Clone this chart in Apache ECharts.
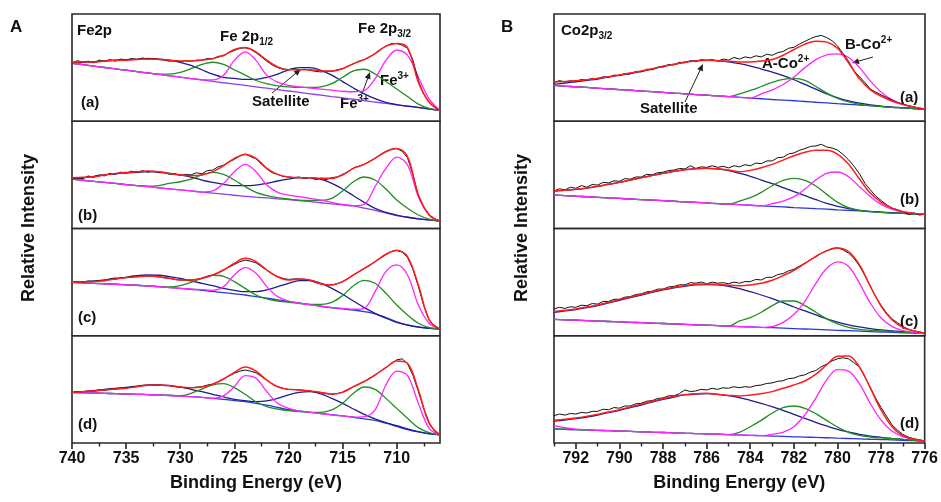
<!DOCTYPE html>
<html>
<head>
<meta charset="utf-8">
<script src="https://cdn.jsdelivr.net/npm/echarts@6/dist/echarts.min.js"></script>
<style>
  html, body { margin: 0; padding: 0; background: #fff; }
  #main { width: 941px; height: 502px; }
</style>
</head>
<body>
<div id="main"></div>
<script>
// ---------- axis ticks ----------
const feTicks = [740, 735, 730, 725, 720, 715, 710];
const feMinorTicks = [737.5, 732.5, 727.5, 722.5, 717.5, 712.5, 707.5];
const coTicks = [792, 790, 788, 786, 784, 782, 780, 778, 776];
const coMinorTicks = [793, 791, 789, 787, 785, 783, 781, 779, 777];

// ---------- Fe 2p (panel A), fitted curves on a 1 eV grid 740 -> 706 ----------
const feBgA = [54, 52.7, 51.4, 50.1, 48.8, 47.6, 46.3, 45, 43.7, 42.4, 41.1, 39.8, 38.5, 37.2, 35.9, 34.7, 33.4, 32.1, 30.8, 29.5, 28.2, 26.9, 25.6, 24.3, 23, 21.8, 20.5, 19.2, 17.9, 16.6, 15.3, 14, 12.7, 11.4, 10.1];
const feSatA = [54, 55, 55.5, 56, 57, 57.5, 58, 58.5, 58, 57, 55, 52, 48, 44, 41, 40, 39, 39, 41, 44, 48, 50, 50, 47.5, 43, 37, 31, 25.5, 21, 17.5, 15.5, 14.2, 12.9, 11.5, 10.1];
const feGreenA = [54, 52.7, 51.4, 50.1, 48.8, 47.6, 46.3, 45, 44, 44, 45.5, 49, 53, 55, 53, 48, 43, 38, 35, 33, 32, 31.5, 31.5, 32, 35, 41, 47, 48.5, 44, 37, 30, 23, 16, 12, 10.1];
const feMagA = [54, 52.7, 51.4, 50.1, 48.8, 47.6, 46.3, 45, 43.7, 42.4, 41.1, 39.8, 38.7, 38.5, 42.8, 56.8, 64.7, 56.8, 42.8, 36.5, 33.4, 32, 31, 30, 29, 28, 27.5, 28.5, 39.6, 56.8, 66.2, 61.5, 41.2, 20.9, 10.1];
const feEnvA = [55.3, 55.3, 55.3, 56.2, 56.9, 56.9, 57.5, 58.1, 57.8, 56.9, 56.2, 56.2, 56.9, 58.4, 61.5, 66.9, 68.7, 64.7, 56.9, 50.6, 48.1, 48.1, 48.1, 46.8, 46.8, 49, 53.7, 57.5, 63.1, 70, 72.5, 68.7, 36.5, 17.7, 9.9];

const feBgB = [46, 45, 44, 43, 42, 41, 40, 39, 38, 37, 36, 35, 34, 33, 32, 31, 30, 29.2, 28.5, 27.7, 27, 26, 25, 24, 23, 22, 21, 19, 17, 14.5, 12, 10.5, 9, 8, 7];
const feSatB = [46, 47.3, 48.6, 50, 51, 51.8, 52.3, 53, 52.7, 51.4, 49.9, 48, 45.2, 43, 41.2, 39.9, 39.9, 40.5, 42.1, 44.3, 46.1, 47.4, 47.4, 45.8, 42.1, 36.8, 30.6, 24.4, 18.8, 15, 12.5, 10.5, 9, 8, 7];
const feGreenB = [46, 45, 44, 43, 42, 41, 40, 39.5, 40, 42, 43.6, 46.1, 49.9, 52.3, 50.5, 45.2, 39, 33.7, 30.6, 28.7, 27.5, 26.5, 26.2, 26.2, 28.1, 34.9, 43.6, 48, 45.2, 36.8, 26.5, 18.8, 12.6, 8.8, 7];
const feMagB = [46, 45, 44, 43, 42, 41, 40, 39, 38, 37, 36, 35, 34, 35, 42, 53, 59.8, 53, 40.5, 33.7, 31.2, 29.7, 28.1, 26.5, 24.4, 22.5, 21.3, 22.5, 39, 56, 66.6, 59.2, 29.7, 12.6, 7];
const feEnvB = [47.4, 47.7, 48.3, 49.9, 51.4, 52.3, 53, 53.6, 53, 51.4, 49.9, 49.2, 49.9, 53, 58.6, 65.4, 69.1, 65.4, 56.1, 50.5, 48, 47.4, 47.4, 46.8, 46.8, 49.9, 56.1, 59.8, 65.4, 71.6, 74.7, 67, 31.2, 12.6, 7];

const feBgC = [49.8, 49.3, 48.9, 48.4, 48, 47.5, 47.1, 46.4, 45.8, 45, 44.2, 43.3, 42.4, 41.3, 40.2, 39.1, 38, 36.5, 35, 33.5, 32, 30.5, 29, 27.5, 26, 25, 24, 22.5, 20.5, 17, 13, 10, 8, 6.8, 6.3];
const feSatC = [49.8, 50.5, 51.1, 52, 53.6, 54.5, 56.1, 56.7, 56.4, 55.1, 53.6, 51.1, 48.9, 46.7, 44.2, 42.4, 41.1, 41.1, 42.7, 45.8, 48.9, 51.4, 51.4, 48.9, 44.2, 38.7, 32.4, 26.2, 20.9, 16.3, 12.5, 10.1, 8.2, 7, 6.3];
const feGreenC = [49.8, 49.5, 48.9, 48.6, 48, 47.7, 47.1, 46.4, 45.8, 45.5, 46.7, 49.8, 53.6, 56.4, 55.4, 50.5, 44.2, 38, 34.3, 32.4, 31.2, 30.3, 29.3, 29.3, 31.2, 37.4, 46.7, 51.7, 48.9, 39.6, 28.7, 19.4, 11.6, 7.6, 6.3];
const feMagC = [49.8, 49.3, 48.9, 48.4, 48, 47.5, 47.1, 46.4, 45.8, 44.9, 44.2, 43.6, 43, 42.4, 45.8, 56.7, 63.5, 58.2, 45.8, 36.5, 32.4, 30.3, 28.7, 27.5, 26.5, 25.6, 24.7, 25.6, 41.1, 59.8, 66, 56.7, 28.7, 11.6, 6.3];
const feEnvC = [49.8, 50.2, 50.5, 51.4, 53, 54.2, 55.1, 55.7, 55.1, 53.6, 52, 52, 53.6, 56.7, 61.3, 67.6, 72.2, 69.1, 61.3, 55, 52, 53, 52, 48.3, 47.4, 50.5, 56.7, 62.9, 69.1, 76, 79.7, 73.8, 47.4, 14.7, 6.3];

const feBgD = [47.2, 46.9, 46.6, 46.3, 46, 45.7, 45.4, 45.1, 44.8, 44.3, 43.8, 43.2, 42.6, 41.7, 40.7, 39.6, 38.5, 37, 35.4, 33.2, 31, 30, 28.5, 27.5, 26.5, 25.3, 24, 22.5, 21, 18.5, 15.5, 12.5, 10.3, 8.6, 7.5];
const feSatD = [47.2, 47.9, 48.8, 50, 51, 51.9, 53.1, 54.1, 54.1, 53.5, 52.2, 50, 47.9, 45.4, 42.9, 40.7, 39.5, 38.5, 39.2, 41.6, 44.8, 47.2, 47.9, 45.7, 41.6, 37, 31.7, 26.7, 22.4, 19, 16.2, 13.1, 10.6, 8.7, 7.5];
const feGreenD = [47.2, 46.9, 46.6, 46.3, 46, 45.7, 45.4, 45.1, 44.8, 44.5, 44.1, 46.3, 50.3, 54.1, 55.3, 51.6, 45.4, 38.5, 33.9, 31.7, 30.1, 29.2, 28.6, 28.6, 30.8, 37, 46.3, 52.2, 50, 41.6, 32.3, 23, 14.3, 9.6, 7.5];
const feMagD = [47.2, 46.9, 46.6, 46.3, 46, 45.7, 45.4, 45.1, 44.8, 44.3, 43.8, 43.2, 42.6, 41.6, 44, 52.5, 62.8, 60.3, 47.9, 37, 32.3, 29.8, 28.6, 27.4, 26.1, 25.2, 24.2, 24.6, 30.8, 54.1, 67.1, 62.8, 37, 13.7, 7.5];
const feEnvD = [47.2, 47.9, 48.5, 49.4, 50.3, 51, 52.5, 53.8, 54.1, 53.5, 52.2, 51.6, 52.2, 54.7, 59.7, 65.9, 70.9, 67.1, 58.7, 52.5, 50, 49.4, 48.5, 47.2, 45.7, 47.2, 52.5, 57.2, 63.4, 70.2, 76.5, 74.3, 49.4, 18.3, 7.5];

// measured Fe 2p spectra, 0.5 eV steps 740 -> 706
const feRawA = [54, 56.5, 55, 56, 54.5, 57, 56, 57.5, 56, 58,
  57, 58.5, 57.5, 59, 58, 58.5, 57.5, 57, 56, 56.5,
  55.5, 56.5, 56, 57, 57, 58.5, 58, 60.5, 61, 64,
  66, 68, 68.5, 67, 64, 60, 56, 52.5, 50, 48.5,
  48, 49, 48, 48.5, 47.5, 46.5, 46, 46.5, 46.5, 48,
  49, 51.5, 53.5, 56, 57.5, 60, 63, 67, 70, 72.5,
  72.5, 71, 68, 57, 38, 25, 18, 13, 10];
const feRawB = [46, 47.5, 46.5, 49, 47.5, 50, 49, 51.5, 50.5, 52.5,
  51.5, 53.5, 52, 54, 52.5, 53.5, 52, 52, 50.5, 51,
  49.5, 50.5, 50, 52, 51, 54, 54.5, 57.5, 59, 62,
  64.5, 67.5, 69.5, 67, 65, 60, 55.5, 52, 50.5, 48.5,
  48, 47.5, 48, 46.5, 47.5, 45.5, 47, 45.5, 47.5, 48,
  50.5, 53, 56.5, 58, 60, 62.5, 65.5, 69, 72, 74,
  74.5, 72, 66, 50, 31, 20, 13, 9, 7];
const feRawC = [49.5, 50.5, 50, 51, 50.5, 51.5, 51, 53, 52.5, 54,
  54, 55.5, 55, 56, 55.5, 55.5, 55, 54, 53.5, 52.5,
  52, 52, 52, 52.5, 53.5, 55, 56.5, 58.5, 61, 64,
  66.5, 69, 70.5, 69.5, 68, 64.5, 61, 57.5, 55, 53.5,
  52.5, 53, 53, 52.5, 51.5, 49.5, 48.5, 47.5, 47.5, 48.5,
  50.5, 53.5, 56.5, 59.5, 62.5, 65.5, 69, 72.5, 75.5, 78.5,
  79.5, 78, 73, 62, 46, 28, 15, 9, 6];
const feRawD = [47, 48, 47.5, 48.5, 48, 49.5, 49, 50.5, 50, 51,
  51, 52.5, 52.5, 53.5, 53.5, 54, 54, 53.5, 53.5, 52.5,
  52, 51.5, 51.5, 52, 52.5, 54, 55, 57, 59.5, 62.5,
  65, 67, 68, 67, 65.5, 62, 58.5, 55, 52.5, 51,
  50, 50, 49.5, 49, 48.5, 47.5, 47, 46, 45.5, 46,
  47.5, 50, 52.5, 55, 57.5, 60.5, 63.5, 67, 70.5, 74,
  77.5, 78.5, 74, 63, 48, 32, 19, 11, 7.5];

// ---------- Co 2p3/2 (panel B), fitted curves on a 0.5 eV grid 793 -> 776 ----------
const coBgA = [33.4, 32.7, 32.1, 31.5, 30.8, 30.2, 29.5, 28.9, 28.2, 27.6, 26.9, 26.2, 25.6, 24.9, 24.3, 23.6, 23, 22.3, 21.6, 21, 20.3, 19.7, 19.1, 18.4, 17.7, 17.1, 16.4, 15.8, 15.1, 14.5, 13.8, 13.2, 12.5, 11.9, 11.2];
const coSatA = [34.3, 35.6, 36.8, 38.1, 39.3, 41.2, 42.8, 44.6, 46.5, 48.7, 51.2, 53.1, 55, 56.5, 56.9, 56.5, 55.3, 53.7, 51.5, 48.7, 45.9, 42.5, 38.7, 34.3, 29.9, 25.5, 21.8, 19, 16.8, 15.2, 14, 13, 12.5, 11.9, 11.2];
const coGreenA = [33.4, 32.7, 32.1, 31.5, 30.8, 30.2, 29.5, 28.9, 28.2, 27.6, 26.9, 26.2, 25.6, 24.9, 24.3, 23.6, 23, 25.5, 28.7, 32.4, 36.2, 39, 40, 38.1, 32.4, 26.2, 21.2, 18, 15.8, 14.6, 13.7, 13, 12.5, 11.9, 11.2];
const coMagA = [33.4, 32.7, 32.1, 31.5, 30.8, 30.2, 29.5, 28.9, 28.2, 27.6, 26.9, 26.2, 25.6, 24.9, 24.3, 23.6, 23, 22.3, 21.6, 25.5, 29.3, 34.3, 41.2, 50, 57.5, 61.9, 62.8, 59.4, 50, 37.4, 27.1, 19.9, 15.5, 13, 11.5];
const coEnvA = [36.5, 37.1, 37.8, 38.7, 40, 41.5, 43.1, 45, 46.8, 49, 51.2, 53.1, 55, 56.2, 56.9, 56.5, 55.9, 55.3, 55.3, 56.2, 57.5, 61.5, 66.9, 71.9, 74.7, 73.8, 67.8, 54.3, 39.6, 29.3, 23.2, 18.7, 15.5, 13, 11.5];

const coBgB = [31.2, 30.7, 30.1, 29.6, 29.1, 28.5, 28, 27.5, 26.9, 26.4, 25.9, 25.4, 24.8, 24.3, 23.8, 23.2, 22.7, 22.2, 21.7, 21.1, 20.6, 20.1, 19.5, 19, 18.5, 18, 17.4, 16.9, 16.4, 15.8, 15.3, 14.8, 14.2, 13.7, 13.2];
const coSatB = [34.9, 35.6, 36.5, 37.7, 39.3, 41.2, 43, 45.2, 47.4, 49.5, 51.4, 53.3, 54.8, 55.8, 56.1, 55.5, 53.9, 51.4, 48.6, 45.2, 41.8, 38.1, 34.3, 30.6, 26.9, 23.4, 20.6, 18.5, 16.9, 16, 15.1, 14.4, 14.1, 13.5, 13.2];
const coGreenB = [31.2, 30.7, 30.1, 29.6, 29.1, 28.5, 28, 27.5, 26.9, 26.4, 25.9, 25.4, 24.8, 24.3, 23.8, 23.2, 22.7, 25.6, 28.7, 33.7, 39.9, 44.9, 46.7, 44.9, 39.6, 31.8, 24.4, 19.4, 16.9, 15.7, 15.1, 14.4, 14.1, 13.5, 13.2];
const coMagB = [31.2, 30.7, 30.1, 29.6, 29.1, 28.5, 28, 27.5, 26.9, 26.4, 25.9, 25.4, 24.8, 24.3, 23.8, 23.2, 22.7, 22.2, 21.7, 21.1, 23.1, 25.6, 29.7, 36.8, 45.2, 51.4, 52.7, 48.3, 39, 29.7, 22.5, 17.8, 15.4, 14.1, 13.2];
const coEnvB = [34.9, 35.6, 36.5, 37.7, 39.3, 41.2, 43, 45.2, 47.4, 49.5, 51.4, 53.3, 54.8, 55.8, 56.1, 55.8, 54.5, 53, 54.2, 56.7, 59.8, 63.8, 67.9, 71, 72.9, 72.9, 69.1, 59.8, 46.1, 32.8, 24.4, 18.8, 15.7, 14.1, 13.2];

const coBgC = [15.3, 14.9, 14.5, 14.1, 13.7, 13.3, 12.9, 12.5, 12.2, 11.8, 11.4, 11, 10.6, 10.2, 9.8, 9.4, 9, 8.6, 8.2, 7.8, 7.5, 7.1, 6.7, 6.3, 5.9, 5.5, 5.1, 4.7, 4.3, 3.9, 3.5, 3.1, 2.8, 2.4, 2];
const coSatC = [21.9, 23.1, 24.4, 26.2, 28.1, 30.6, 33.1, 35.5, 38, 40.5, 42.7, 44.6, 46.1, 47.4, 47.7, 47.4, 46.1, 43.9, 41.1, 38, 34.6, 30.9, 26.8, 23.1, 19.4, 15.7, 12.6, 10.1, 8.2, 6.6, 5.4, 4.5, 3.9, 2.9, 2.3];
const coGreenC = [15.3, 14.9, 14.5, 14.1, 13.7, 13.3, 12.9, 12.5, 12.2, 11.8, 11.4, 11, 10.6, 10.2, 9.8, 9.4, 9, 13.8, 16.9, 21.9, 28.1, 32.4, 32.4, 28.1, 21.9, 15.7, 11, 7.9, 6, 5.1, 4.5, 3.9, 3.2, 2.6, 2];
const coMagC = [15.3, 14.9, 14.5, 14.1, 13.7, 13.3, 12.9, 12.5, 12.2, 11.8, 11.4, 11, 10.6, 10.2, 9.8, 9.4, 9, 8.6, 8.2, 7.8, 8.5, 12.5, 20, 32.4, 48.9, 62.9, 68.8, 64.5, 48.9, 30.3, 16.3, 8.5, 4.8, 3.2, 2];
const coEnvC = [22.5, 23.7, 25, 26.8, 28.7, 31.2, 33.7, 36.2, 38.7, 41.1, 43.3, 45.2, 46.7, 48, 48.3, 48, 47, 46.7, 47.4, 48.9, 51.7, 56.1, 61, 67.6, 74.1, 79.4, 81.9, 78.4, 66, 45.8, 27.2, 14.7, 7.6, 4.5, 2.3];

const coBgD = [13.1, 12.8, 12.4, 12.1, 11.8, 11.5, 11.1, 10.8, 10.5, 10.1, 9.8, 9.5, 9.1, 8.8, 8.5, 8.2, 7.8, 7.5, 7.2, 6.8, 6.5, 6.2, 5.8, 5.5, 5.2, 4.9, 4.5, 4.2, 3.9, 3.5, 3.2, 2.9, 2.5, 2.2, 1.9];
const coSatD = [20.5, 21.4, 22.7, 24.2, 26.1, 28.3, 30.5, 33, 35.4, 38.2, 40.7, 42.9, 44.8, 45.7, 46, 45.4, 44.1, 42.3, 39.8, 37, 33.9, 30.5, 26.7, 23, 19.3, 15.9, 12.7, 10.3, 8.1, 6.5, 5.3, 4.3, 3.4, 2.5, 1.9];
const coGreenD = [13.1, 12.8, 12.4, 12.1, 11.8, 11.5, 11.1, 10.8, 10.5, 10.1, 9.8, 9.5, 9.1, 8.8, 8.5, 8.2, 7.8, 10, 15.2, 21.1, 27.7, 33, 34.5, 32.3, 27.4, 21.1, 14.9, 9.9, 7.1, 5.6, 4.7, 4, 3.4, 2.5, 1.9];
const coMagD = [16.2, 14.3, 13, 12.3, 11.8, 11.5, 11.1, 10.8, 10.5, 10.1, 9.8, 9.5, 9.1, 8.8, 8.5, 8.2, 7.8, 7.5, 7.2, 6.8, 8.1, 9.9, 15.2, 26.1, 41.6, 58.7, 68.4, 67.1, 55.6, 37, 21.4, 11.2, 5.9, 3.4, 1.9];
const coEnvD = [21.1, 22.1, 23.3, 24.9, 26.7, 28.9, 31.1, 33.6, 36.1, 38.9, 41.3, 43.5, 45.1, 46, 46.3, 45.4, 44.4, 43.8, 44.8, 46, 47.9, 51, 54.1, 57.8, 64, 72.7, 80.8, 81.1, 71.2, 51.6, 30.8, 15.2, 6.8, 3.4, 1.9];

// measured Co 2p3/2 spectra, 0.25 eV steps 793 -> 776
const coRawA = [36, 38, 36.5, 37.8, 37, 39, 38.2, 40, 39.5, 41.5,
  41, 43, 42.5, 44.5, 44, 46.5, 46, 48.5, 48, 50.5,
  50.5, 53, 52.5, 55, 54.5, 56.5, 55.5, 57.5, 56.5, 57.5,
  56, 58, 57, 59.5, 58, 60, 59, 61, 60, 62.5,
  61.5, 64, 65, 68, 69, 72, 74.5, 77, 79, 80,
  78, 75, 70, 63, 56, 47, 41.5, 36, 30, 27,
  24.5, 22, 19.5, 17.5, 16, 14.5, 13.5, 12, 11.5];
const coRawB = [35, 37, 36, 38.5, 37.5, 40, 38.5, 41, 40.5, 43,
  42.5, 44.5, 44, 46.5, 46, 48, 48, 50.5, 50, 52,
  52.5, 54, 54.5, 56, 55.5, 58.5, 56, 57.5, 57, 58.5,
  57, 58, 56.5, 58.5, 57.5, 59.5, 58.5, 61, 60.5, 63,
  63, 66, 66.5, 69.5, 70.5, 73, 74.5, 76.5, 77, 78.5,
  76, 75, 73, 69, 64, 58, 51, 42, 36, 30,
  26, 22, 19, 17.5, 15.5, 13, 14.5, 12.5, 13.5];
const coRawC = [25, 26.5, 25.5, 27, 26.5, 28.5, 28, 30, 29.5, 32,
  32, 34, 34, 36, 36.5, 38.5, 39, 41, 41.5, 43.5,
  43.5, 45.5, 46, 47.5, 47.5, 49.5, 49, 50, 48.5, 50,
  49, 49.5, 48.5, 50, 49, 50.5, 50.5, 52.5, 52, 54.5,
  54.5, 57, 58, 60.5, 62, 65, 67.5, 71, 73.5, 77,
  79, 81.5, 82, 80, 77, 72, 65, 56, 46, 36,
  28, 21, 15.5, 12, 8.5, 6, 4.5, 3.5, 2.5];
const coRawD = [25.5, 27, 26, 27.5, 27, 28.5, 28, 29.5, 29.5, 31.5,
  31, 33, 32.5, 34.5, 34.5, 36.5, 37, 39, 39.5, 41.5,
  42, 44, 44, 46, 49.5, 48, 48.5, 50, 49.5, 51,
  50, 51.5, 51, 52.5, 51.5, 52.5, 52, 53.5, 54, 55.5,
  56, 57.5, 58, 60, 60.5, 62.5, 63.5, 66, 67.5, 71,
  73.5, 76.5, 78.5, 79.5, 78.5, 75, 71, 62, 52, 42,
  33, 25, 17, 12, 8, 5.5, 4, 3, 2];

// ---------- layout / styling ----------
const FONT = '"Liberation Sans", Arial, Helvetica, sans-serif';
const INK = '#111';
const COL = {
  raw: '#111111', env: '#ff1c1c', bgViolet: '#8b3fe6', bgBlue: '#2a36dc',
  sat: '#1d1d8e', green: '#1f8f22', mag: '#ff24ff'
};
const TOPS = [14, 121.25, 228.5, 335.75];
const SUB_H = 107.25;

function energyGrid(from, to, step) {
  const out = [];
  const n = Math.round((from - to) / step);
  for (let i = 0; i <= n; i++) out.push(+(from - i * step).toFixed(2));
  return out;
}
const feE = energyGrid(740, 706, 1);
const feRawE = energyGrid(740, 706, 0.5);
const coE = energyGrid(793, 776, 0.5);
const coRawE = energyGrid(793, 776, 0.25);

const fePanels = [
  { bg: feBgA, sat: feSatA, g: feGreenA, m: feMagA, env: feEnvA, raw: feRawA, bgColor: COL.bgViolet },
  { bg: feBgB, sat: feSatB, g: feGreenB, m: feMagB, env: feEnvB, raw: feRawB, bgColor: COL.bgViolet },
  { bg: feBgC, sat: feSatC, g: feGreenC, m: feMagC, env: feEnvC, raw: feRawC, bgColor: COL.bgBlue },
  { bg: feBgD, sat: feSatD, g: feGreenD, m: feMagD, env: feEnvD, raw: feRawD, bgColor: COL.bgBlue }
];
const coPanels = [
  { bg: coBgA, sat: coSatA, g: coGreenA, m: coMagA, env: coEnvA, raw: coRawA, bgColor: COL.bgBlue },
  { bg: coBgB, sat: coSatB, g: coGreenB, m: coMagB, env: coEnvB, raw: coRawB, bgColor: COL.bgBlue },
  { bg: coBgC, sat: coSatC, g: coGreenC, m: coMagC, env: coEnvC, raw: coRawC, bgColor: COL.bgBlue },
  { bg: coBgD, sat: coSatD, g: coGreenD, m: coMagD, env: coEnvD, raw: coRawD, bgColor: COL.bgBlue }
];

const pair = (xs, ys) => xs.map((x, i) => [x, ys[i]]);
function line(idx, data, color, width, smooth) {
  return {
    type: 'line', xAxisIndex: idx, yAxisIndex: idx, data,
    symbol: 'none', smooth: smooth ? 0.35 : false, silent: true,
    lineStyle: { color, width }
  };
}

const grids = [], xAxes = [], yAxes = [], series = [];
function addPanelColumn(panels, gridLeft, gridWidth, min, max, ticks, minor, ex, rawEx, idx0) {
  panels.forEach((p, k) => {
    const idx = idx0 + k;
    const bottom = k === panels.length - 1;
    grids.push({
      left: gridLeft, width: gridWidth, top: TOPS[k], height: SUB_H,
      show: true, borderColor: '#2a2a2a', borderWidth: 1.6, backgroundColor: 'transparent'
    });
    xAxes.push({
      gridIndex: idx, type: 'value', min, max, inverse: true, show: bottom,
      axisLine: { show: false }, splitLine: { show: false },
      axisTick: { show: bottom, inside: false, length: 6, customValues: ticks, lineStyle: { color: '#222', width: 1.6 } },
      axisLabel: { show: bottom, customValues: ticks, fontSize: 16, fontWeight: 'bold', color: INK, fontFamily: FONT, margin: 8 },
      name: bottom ? 'Binding Energy (eV)' : '', nameLocation: 'middle', nameGap: 31,
      nameTextStyle: { fontSize: 18, fontWeight: 'bold', color: INK, fontFamily: FONT }
    });
    yAxes.push({ gridIndex: idx, type: 'value', min: 0, max: 100, show: false });
    series.push(line(idx, pair(ex, p.bg), p.bgColor, 1.3, true));
    series.push(line(idx, pair(ex, p.sat), COL.sat, 1.3, true));
    series.push(line(idx, pair(ex, p.g), COL.green, 1.3, true));
    series.push(line(idx, pair(ex, p.m), COL.mag, 1.3, true));
    series.push(line(idx, pair(rawEx, p.raw), COL.raw, 1, false));
    series.push(line(idx, pair(ex, p.env), COL.env, 1.5, true));
  });
}
addPanelColumn(fePanels, 72, 368, 706, 740, feTicks, feMinorTicks, feE, feRawE, 0);
addPanelColumn(coPanels, 554, 371, 776, 793, coTicks, coMinorTicks, coE, coRawE, 4);

// extra axes that only carry the minor ticks of the bottom frames
[[3, 706, 740, feMinorTicks], [7, 776, 793, coMinorTicks]].forEach(([g, min, max, vals]) => {
  xAxes.push({
    gridIndex: g, type: 'value', min, max, inverse: true, position: 'bottom',
    axisLine: { show: false }, splitLine: { show: false }, axisLabel: { show: false },
    axisTick: { show: true, length: 3.5, customValues: vals, lineStyle: { color: '#222', width: 1.4 } }
  });
});

// ---------- annotations ----------
const RICH = {
  n: { fontSize: 15, fontWeight: 'bold', fontFamily: FONT, fill: INK, lineHeight: 20 },
  sub: { fontSize: 10, fontWeight: 'bold', fontFamily: FONT, fill: INK, lineHeight: 10, verticalAlign: 'bottom' },
  sup: { fontSize: 10, fontWeight: 'bold', fontFamily: FONT, fill: INK, lineHeight: 10, verticalAlign: 'top' }
};
function label(x, y, text, size) {
  return {
    type: 'text', x, y, silent: true,
    style: { text, rich: RICH, font: 'bold ' + (size || 15) + 'px ' + FONT, fill: INK, verticalAlign: 'middle' }
  };
}
function arrow(x1, y1, x2, y2) {
  const a = Math.atan2(y2 - y1, x2 - x1), L = 7, W = 3;
  const c = Math.cos(a), s = Math.sin(a);
  return [
    { type: 'line', silent: true, shape: { x1, y1, x2: x2 - c * 4, y2: y2 - s * 4 }, style: { stroke: '#222', lineWidth: 1 } },
    { type: 'polygon', silent: true, shape: { points: [[x2, y2], [x2 - L * c + W * s, y2 - L * s - W * c], [x2 - L * c - W * s, y2 - L * s + W * c]] }, style: { fill: '#222' } }
  ];
}

const graphics = [
  label(10, 27, 'A', 17), label(501, 27, 'B', 17),
  { type: 'text', x: 29, y: 228, rotation: Math.PI / 2, silent: true,
    style: { text: 'Relative Intensity', font: 'bold 18px ' + FONT, fill: INK, align: 'center', verticalAlign: 'middle' } },
  { type: 'text', x: 522, y: 228, rotation: Math.PI / 2, silent: true,
    style: { text: 'Relative Intensity', font: 'bold 18px ' + FONT, fill: INK, align: 'center', verticalAlign: 'middle' } },
  // Fe 2p panel
  label(77, 31, '{n|Fe2p}'),
  label(220, 37, '{n|Fe 2p}{sub|1/2}'),
  label(358, 29, '{n|Fe 2p}{sub|3/2}'),
  label(252, 102, '{n|Satellite}'),
  label(340, 104, '{n|Fe}{sup|3+}'),
  label(380, 81, '{n|Fe}{sup|3+}'),
  label(81, 103, '{n|(a)}'), label(78, 216, '{n|(b)}'), label(78, 318, '{n|(c)}'), label(78, 425, '{n|(d)}'),
  ...arrow(272, 93, 301, 69),
  ...arrow(362, 94, 370, 72),
  // Co 2p panel
  label(561, 31, '{n|Co2p}{sub|3/2}'),
  label(640, 109, '{n|Satellite}'),
  label(762, 64, '{n|A-Co}{sup|2+}'),
  label(845, 45, '{n|B-Co}{sup|2+}'),
  label(900, 98, '{n|(a)}'), label(900, 200, '{n|(b)}'), label(900, 322, '{n|(c)}'), label(900, 424, '{n|(d)}'),
  ...arrow(685, 102, 703, 64),
  ...arrow(873, 57, 852, 63)
];

const chart = echarts.init(document.getElementById('main'));
chart.setOption({
  animation: false,
  backgroundColor: '#fff',
  grid: grids,
  xAxis: xAxes,
  yAxis: yAxes,
  series,
  graphic: { elements: graphics }
});
window.addEventListener('resize', () => chart.resize());
</script>
</body>
</html>
